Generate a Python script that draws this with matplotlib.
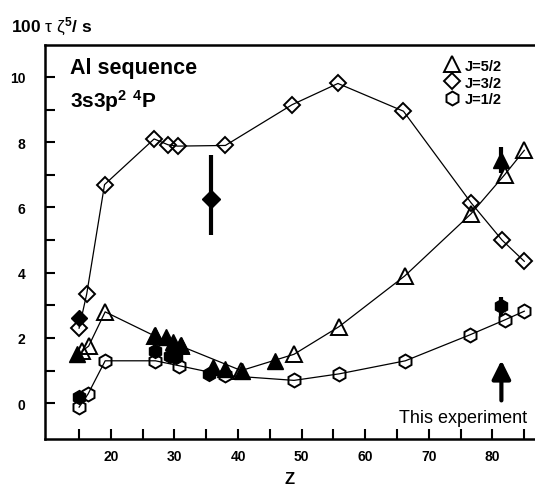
import matplotlib
matplotlib.use('Agg')
import matplotlib.pyplot as plt
from matplotlib.lines import Line2D

plt.rcParams['font.family'] = ['Liberation Sans', 'DejaVu Sans']
plt.rcParams['mathtext.fontset'] = 'custom'
plt.rcParams['mathtext.rm'] = 'Liberation Sans'
plt.rcParams['mathtext.bf'] = 'Liberation Sans:bold'
plt.rcParams['mathtext.it'] = 'Liberation Sans:italic'

# J=5/2 (open triangles, connected)
z_52 = [15.5, 16.5, 19.1, 27.0, 31.0, 40.5, 48.8, 55.9, 66.2, 76.6, 81.9, 85.0]
y_52 = [1.6, 1.75, 2.8, 2.05, 1.75, 1.0, 1.5, 2.35, 3.9, 5.8, 7.0, 7.75]
# J=3/2 (open diamonds, connected)
z_32 = [15.0, 16.2, 19.0, 26.8, 29.0, 30.5, 38.0, 48.5, 55.7, 66.0, 76.6, 81.5, 85.0]
y_32 = [2.3, 3.35, 6.7, 8.1, 7.92, 7.88, 7.9, 9.15, 9.8, 8.95, 6.15, 5.0, 4.35]
# J=1/2 (open hexagons, connected)
z_12 = [15.0, 16.4, 19.1, 27.0, 30.7, 38.0, 48.8, 55.9, 66.3, 76.5, 81.9, 85.0]
y_12 = [-0.12, 0.28, 1.3, 1.3, 1.15, 0.85, 0.7, 0.9, 1.3, 2.1, 2.55, 2.82]

# experiments (filled)
zf_52 = [14.6, 26.9, 28.7, 29.8, 31.0, 36.0, 38.0, 40.6, 45.8]
yf_52 = [1.5, 2.1, 2.03, 1.87, 1.77, 1.1, 1.06, 1.0, 1.28]
zf_32 = [15.0]
yf_32 = [2.6]
zf_12 = [15.0, 26.9, 29.3, 30.3, 35.5]
yf_12 = [0.2, 1.6, 1.45, 1.42, 0.88]

# points with error bars
ze_32, ye_32, ee_32 = [35.8], [6.25], [[1.1], [1.35]]
ze_52, ye_52, ee_52 = [81.3], [7.45], [0.4]
ze_12, ye_12, ee_12 = [81.3], [2.97], [0.3]

fig = plt.figure(figsize=(5.35, 4.89), dpi=100)
ax = fig.add_axes([0.084, 0.1, 0.915, 0.806])

ms_t = 11
ms_h = 10
ms_d = 8
mew = 1.4
ax.plot(z_32, y_32, '-', color='k', lw=0.9, marker='D', ms=ms_d, mfc='none', mec='k', mew=mew)
ax.plot(z_52, y_52, '-', color='k', lw=0.9, marker='^', ms=ms_t, mfc='none', mec='k', mew=mew)
ax.plot(z_12, y_12, '-', color='k', lw=0.9, marker='h', ms=ms_h, mfc='none', mec='k', mew=mew)

ax.plot(zf_52, yf_52, '^', color='k', ms=ms_t)
ax.plot(zf_32, yf_32, 'D', color='k', ms=ms_d)
ax.plot(zf_12, yf_12, 'h', color='k', ms=ms_h)

ax.errorbar(ze_32, ye_32, yerr=ee_32, fmt='D', color='k', ms=9, elinewidth=3, capsize=0)
ax.errorbar(ze_52, ye_52, yerr=ee_52, fmt='^', color='k', ms=ms_t, elinewidth=3, capsize=0)
ax.errorbar(ze_12, ye_12, yerr=ee_12, fmt='h', color='k', ms=ms_h, elinewidth=3, capsize=0)

# arrow pointing at this experiment
ax.annotate('', xy=(81.4, 1.4), xytext=(81.4, 0.0),
            arrowprops=dict(arrowstyle='-|>', lw=3, color='k', mutation_scale=28))
ax.text(85.5, -0.45, 'This experiment', fontsize=13, ha='right', va='center')

ax.text(13.6, 10.3, 'Al sequence', fontsize=15.5, fontweight='bold', va='center')
ax.text(13.6, 9.3, r'$\mathbf{3s3p^2\ ^4P}$', fontsize=15, va='center')

handles = [
    Line2D([], [], ls='none', marker='^', ms=ms_t, mfc='none', mec='k', mew=mew),
    Line2D([], [], ls='none', marker='D', ms=ms_d, mfc='none', mec='k', mew=mew),
    Line2D([], [], ls='none', marker='h', ms=ms_h, mfc='none', mec='k', mew=mew),
]
leg = ax.legend(handles, ['J=5/2', 'J=3/2', 'J=1/2'], loc='upper left',
                bbox_to_anchor=(0.795, 0.995), frameon=False, handlelength=0.8,
                handletextpad=0.5, labelspacing=0.2, borderpad=0.3,
                prop={'weight': 'bold', 'size': 10.5})

ax.set_xlim(9.63, 86.6)
ax.set_ylim(-1.1, 10.98)
ax.set_xticks([20, 30, 40, 50, 60, 70, 80])
ax.set_xticks(list(range(15, 86, 5)), minor=True)
ax.set_yticks([0, 2, 4, 6, 8, 10])
ax.set_yticks(list(range(0, 11)), minor=True)
ax.tick_params(which='both', direction='in', length=7, width=1.5)
ax.tick_params(axis='x', which='both', top=False, pad=7)
ax.tick_params(axis='y', which='both', right=False, pad=14)
for lab in ax.get_xticklabels() + ax.get_yticklabels():
    lab.set_fontweight('bold')
    lab.set_fontsize(10)

ax.spines['right'].set_visible(False)
for s in ['left', 'top', 'bottom']:
    ax.spines[s].set_linewidth(1.8)

ax.set_xlabel('Z', fontsize=12, fontweight='bold', labelpad=6)
fig.text(0.02, 0.945, r'$\mathbf{100}\ \mathrm{\tau}\ \mathrm{\zeta}^{\mathbf{5}}\mathbf{/\ s}$',
         fontsize=12.5, va='center')

fig.savefig('out.png', dpi=100)
